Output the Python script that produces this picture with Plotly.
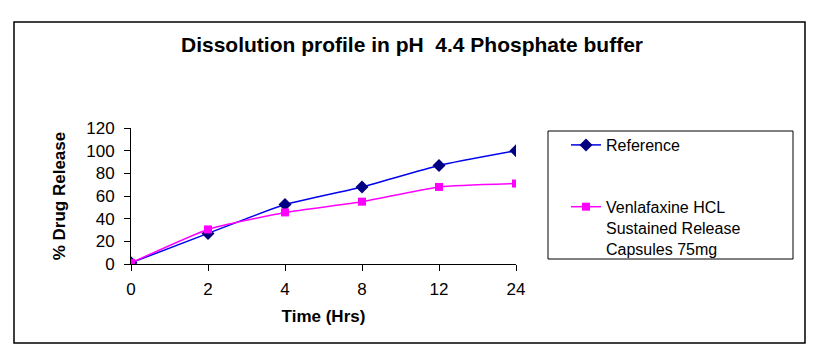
import plotly.graph_objects as go

time_labels = ["0", "2", "4", "8", "12", "24"]
reference = [1, 27, 52.5, 68, 87, 100]
venlafaxine = [1, 30.5, 45.5, 55, 68, 71]
y_ticks = [0, 20, 40, 60, 80, 100, 120]

FONT = "Arial, Liberation Sans, sans-serif"

fig = go.Figure()
fig.add_trace(go.Scatter(
    x=time_labels, y=reference, name="Reference", mode="lines+markers",
    line=dict(color="#0000EE", width=1.5, shape="spline", smoothing=0.5),
    marker=dict(symbol="diamond", size=10, color="#000080"),
    legendgroup="a"))
fig.add_trace(go.Scatter(
    x=time_labels, y=venlafaxine,
    name="Venlafaxine HCL<br>Sustained Release<br>Capsules 75mg",
    mode="lines+markers",
    line=dict(color="#FF00FF", width=1.5, shape="spline", smoothing=0.5),
    marker=dict(symbol="square", size=8, color="#FF00FF"),
    legendgroup="b"))

L, R, T, B = 131, 516, 128, 264
W, H = R - L, B - T
def px(x): return (x - L) / W
def py(y): return (B - y) / H

fig.update_layout(
    width=818, height=361,
    margin=dict(l=L, r=818 - R, t=T, b=361 - B),
    paper_bgcolor="white", plot_bgcolor="white",
    font=dict(family=FONT, color="black", size=16),
    title=dict(text="<b>Dissolution profile in pH  4.4 Phosphate buffer</b>",
               xref="container", x=412 / 818, xanchor="center",
               yref="container", y=1 - 45 / 361, yanchor="middle",
               font=dict(size=21, family=FONT)),
    xaxis=dict(type="category", range=[0, 5], showline=True, linecolor="black",
               linewidth=1, ticks="outside", ticklen=6, tickcolor="black",
               showgrid=False, zeroline=False, tickfont=dict(size=17),
               ticklabelstandoff=4,
               title=dict(text="<b>Time (Hrs)</b>", font=dict(size=17), standoff=11)),
    yaxis=dict(range=[0, 120], tickvals=y_ticks, showline=True, linecolor="black",
               linewidth=1, ticks="outside", ticklen=6, tickcolor="black",
               showgrid=False, zeroline=False, tickfont=dict(size=17),
               ticklabelstandoff=6,
               title=dict(text="<b>% Drug Release</b>", font=dict(size=17), standoff=16)),
    legend=dict(x=px(566), y=py(128), xanchor="left", yanchor="top",
                borderwidth=0, bgcolor="rgba(0,0,0,0)", valign="top",
                font=dict(size=16), tracegroupgap=38, traceorder="grouped",
                maxheight=220),
    shapes=[dict(type="rect", xref="paper", yref="paper",
                 x0=px(14), x1=px(805), y0=py(343), y1=py(22),
                 line=dict(color="black", width=1.5), layer="below"),
            dict(type="rect", xref="paper", yref="paper",
                 x0=px(548), x1=px(793), y0=py(259), y1=py(131),
                 line=dict(color="black", width=1), layer="below")],
)

fig.write_html("out.html", config={"displayModeBar": False},
               post_script="document.body.style.margin='0px';")
